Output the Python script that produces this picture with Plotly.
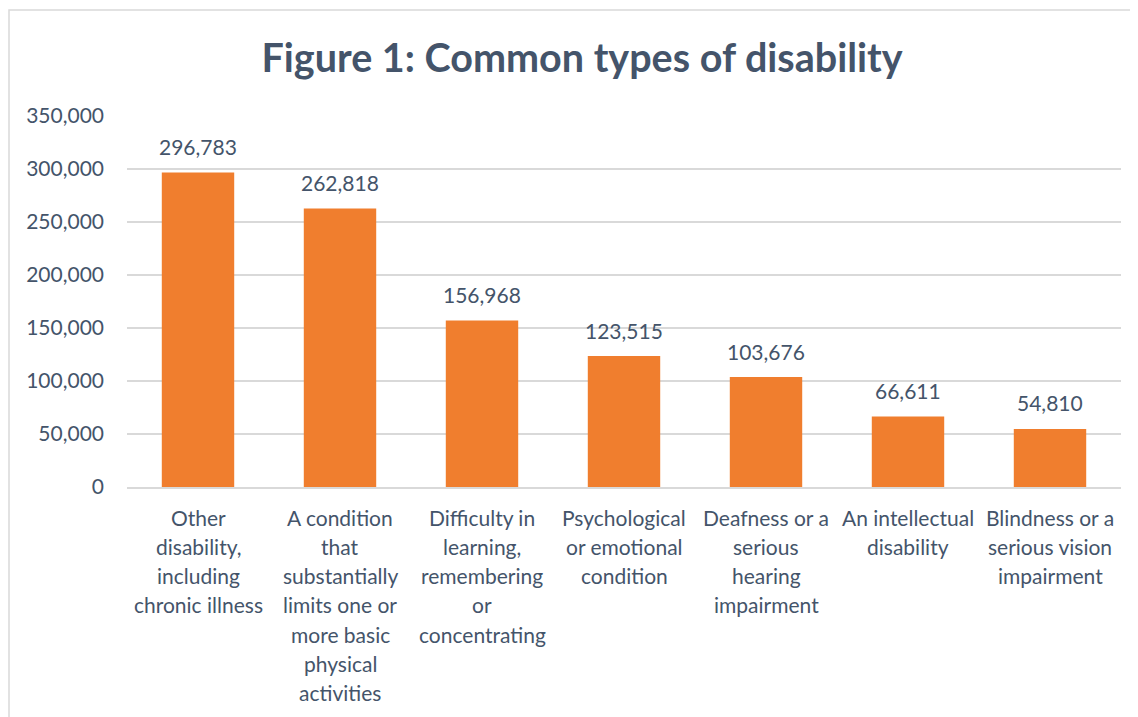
import plotly.graph_objects as go

categories = [
    "Other<br>disability,<br>including<br>chronic illness",
    "A condition<br>that<br>substantially<br>limits one or<br>more basic<br>physical<br>activities",
    "Difficulty in<br>learning,<br>remembering<br>or<br>concentrating",
    "Psychological<br>or emotional<br>condition",
    "Deafness or a<br>serious<br>hearing<br>impairment",
    "An intellectual<br>disability",
    "Blindness or a<br>serious vision<br>impairment",
]
values = [296783, 262818, 156968, 123515, 103676, 66611, 54810]
y_ticks = [0, 50000, 100000, 150000, 200000, 250000, 300000, 350000]
y_ticktext = ["0", "50,000", "100,000", "150,000", "200,000", "250,000", "300,000", "350,000"]

W, H = 1130, 709
ML, MR, MT, MB = 119, 17, 108, 230
TEXT = "#44546A"
FONT = "Lato, 'Open Sans', sans-serif"

fig = go.Figure()
fig.add_trace(go.Bar(
    x=categories,
    y=values,
    marker=dict(color="#F07E2E", line=dict(width=0)),
    hoverinfo="skip",
))

for c, v in zip(categories, values):
    fig.add_annotation(
        x=c, y=v, text=f"{v:,}", showarrow=False,
        yanchor="middle", yshift=26,
        font=dict(size=21, color=TEXT, family=FONT),
    )

# category labels, one annotation per line for Excel-like line spacing
for c in categories:
    for i, line in enumerate(c.split("<br>")):
        fig.add_annotation(
            x=c, y=0, yref="y", text=line, showarrow=False,
            yanchor="middle", yshift=-(30 + 29.3 * i),
            font=dict(size=21, color=TEXT, family=FONT),
        )

fig.update_layout(
    width=W, height=H,
    margin=dict(l=ML, r=MR, t=MT, b=MB, pad=0),
    paper_bgcolor="white",
    plot_bgcolor="white",
    bargap=0.49,
    showlegend=False,
    font=dict(family=FONT, size=21, color=TEXT),
    title=dict(
        text="<b>Figure 1: Common types of disability</b>",
        x=0.508, xanchor="center",
        y=1 - 50 / H, yanchor="middle",
        font=dict(size=39.5, color=TEXT, family=FONT),
    ),
    xaxis=dict(
        showgrid=False,
        showline=True, linecolor="#D9D9D9", linewidth=1.5,
        ticks="", showticklabels=False,
    ),
    yaxis=dict(
        range=[0, 350000],
        tickvals=y_ticks, ticktext=y_ticktext,
        showgrid=True, gridcolor="#D9D9D9", gridwidth=1.5,
        zeroline=False, showline=False,
        ticks="", tickfont=dict(size=21, color=TEXT),
        ticklabelstandoff=22,
    ),
    shapes=[
        dict(type="rect", xref="paper", yref="paper",
             x0=(1 - ML) / (W - ML - MR), x1=(W + 20 - ML) / (W - ML - MR),
             y0=-(MB + 20) / (H - MT - MB),
             y1=1 + (MT - 2) / (H - MT - MB),
             line=dict(color="#D9D9D9", width=1.5), fillcolor="rgba(0,0,0,0)",
             layer="below"),
    ],
)

fig.write_html("out.html")
